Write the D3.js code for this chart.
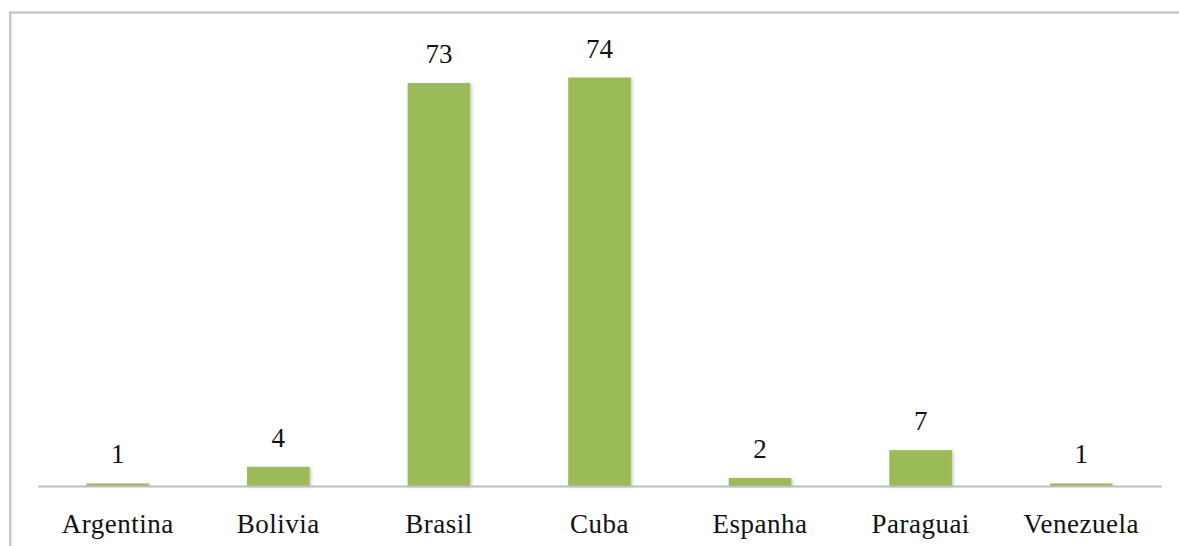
<!DOCTYPE html>
<html>
<head>
<meta charset="utf-8">
<script src="https://cdn.jsdelivr.net/npm/d3@7/dist/d3.min.js"></script>
<style>
  html, body { margin: 0; padding: 0; background: #ffffff; }
  svg { display: block; }
  svg text { font-family: 'Liberation Serif', 'Times New Roman', Tinos, serif !important; fill: #111; }
</style>
</head>
<body>
<svg id="chart" width="1179" height="546"></svg>
<script>
// Countries and counts
const categories = ["Argentina", "Bolivia", "Brasil", "Cuba", "Espanha", "Paraguai", "Venezuela"];
const values = [1, 4, 73, 74, 2, 7, 1];

const W = 1179, H = 546;
const svg = d3.select("#chart");

// Outer frame (its right and bottom edges run past the page)
svg.append("rect")
  .attr("x", 10.2).attr("y", 12.5)
  .attr("width", W + 20).attr("height", H + 20)
  .attr("fill", "none")
  .attr("stroke", "#c6c6c6")
  .attr("stroke-width", 2.4);

// Soft shadow for the bars
const defs = svg.append("defs");
const f = defs.append("filter").attr("id", "shadow")
  .attr("x", "-20%").attr("y", "-20%").attr("width", "140%").attr("height", "140%");
f.append("feDropShadow")
  .attr("dx", 1.5).attr("dy", 1)
  .attr("stdDeviation", 1.6)
  .attr("flood-color", "#000")
  .attr("flood-opacity", 0.22);

const plot = { left: 37.5, right: 1161.5, base: 486 };

const x = d3.scaleBand()
  .domain(categories)
  .range([plot.left, plot.right])
  .paddingInner(0)
  .paddingOuter(0);

const y = d3.scaleLinear()
  .domain([0.55, 74])
  .range([plot.base, 77.5]);

const barW = x.bandwidth() * 0.39;

const rows = categories.map((c, i) => ({ c, v: values[i] }));

// Bars
svg.append("g")
  .selectAll("rect")
  .data(rows)
  .join("rect")
  .attr("x", d => x(d.c) + (x.bandwidth() - barW) / 2)
  .attr("y", d => y(d.v))
  .attr("width", barW)
  .attr("height", d => plot.base - y(d.v))
  .attr("fill", "#9bbb59")
  .attr("filter", "url(#shadow)");

// Category axis
const axis = d3.axisBottom(x).tickSize(0).tickPadding(0);
const gx = svg.append("g")
  .attr("transform", `translate(0,${plot.base})`)
  .call(axis)
  .attr("font-family", null)
  .attr("font-size", null);
gx.select(".domain")
  .attr("stroke", "#bdbdbd")
  .attr("stroke-width", 2);
gx.selectAll(".tick text")
  .attr("dy", null)
  .attr("y", 47)
  .style("font-size", "27px")
  .style("letter-spacing", "0.5px")
  .style("fill", "#111");

// Value labels
svg.append("g")
  .selectAll("text")
  .data(rows)
  .join("text")
  .attr("x", d => x(d.c) + x.bandwidth() / 2)
  .attr("y", d => y(d.v) - 20)
  .attr("text-anchor", "middle")
  .style("font-size", "27px")
  .text(d => d.v);
</script>
</body>
</html>
